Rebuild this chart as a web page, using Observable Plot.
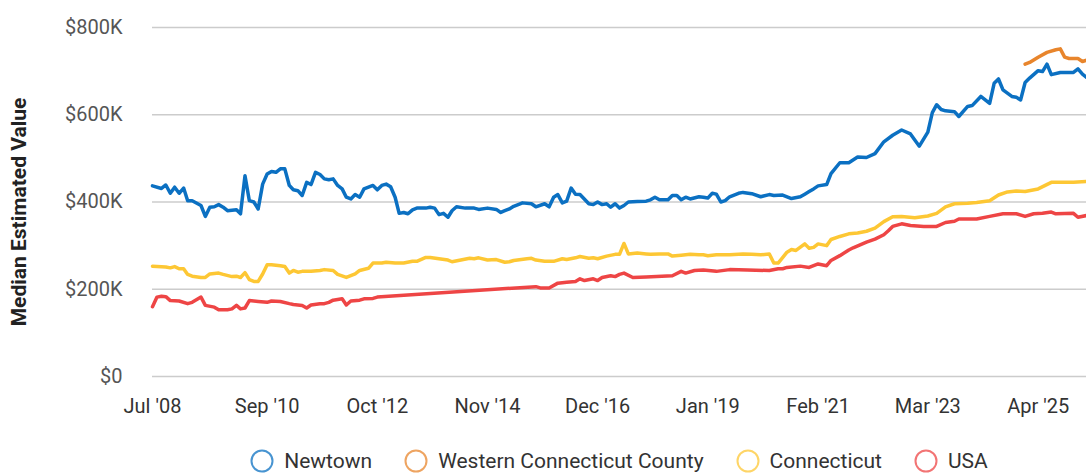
<!DOCTYPE html>
<html>
<head>
<meta charset="utf-8">
<script src="https://cdn.jsdelivr.net/npm/d3@7"></script>
<script src="https://cdn.jsdelivr.net/npm/@observablehq/plot@0.6"></script>
<style>
  body { margin: 0; background: #fff; font-family: Roboto, sans-serif; }
  #legend { display: flex; justify-content: center; align-items: center; margin-left: 152px; width: 934px; padding-top: 19px; gap: 32px; }
  .item { display: flex; align-items: center; font-size: 21px; color: #333; }
  .item svg { margin-right: 10px; }
</style>
</head>
<body>
<div id="chart"></div>
<div id="legend"></div>
<script>
const seriesNames = ["Newtown", "Western Connecticut County", "Connecticut", "USA"];
const seriesColors = ["#0b70c2", "#e8852c", "#fdc734", "#ee4545"];

const newtownDates = ["2008-07","2008-09","2008-10","2008-11","2008-12","2009-01","2009-02","2009-03","2009-04","2009-06","2009-07","2009-08","2009-09","2009-10","2009-11","2009-12","2010-02","2010-03","2010-04","2010-05","2010-06","2010-07","2010-08","2010-09","2010-10","2010-11","2010-12","2011-01","2011-02","2011-03","2011-04","2011-05","2011-06","2011-07","2011-08","2011-09","2011-10","2011-11","2011-12","2012-01","2012-02","2012-03","2012-04","2012-05","2012-06","2012-07","2012-09","2012-10","2012-11","2012-12","2013-01","2013-02","2013-03","2013-04","2013-05","2013-06","2013-07","2013-09","2013-10","2013-11","2013-12","2014-01","2014-02","2014-03","2014-04","2014-06","2014-08","2014-09","2014-11","2015-01","2015-02","2015-03","2015-04","2015-05","2015-06","2015-07","2015-09","2015-10","2015-12","2016-01","2016-02","2016-03","2016-04","2016-05","2016-06","2016-07","2016-08","2016-10","2016-11","2016-12","2017-01","2017-02","2017-03","2017-04","2017-05","2017-06","2017-07","2017-09","2017-11","2017-12","2018-01","2018-02","2018-04","2018-05","2018-06","2018-07","2018-08","2018-09","2018-11","2018-12","2019-01","2019-02","2019-03","2019-04","2019-05","2019-06","2019-08","2019-09","2019-11","2020-01","2020-03","2020-04","2020-06","2020-08","2020-10","2020-11","2020-12","2021-01","2021-02","2021-04","2021-05","2021-07","2021-09","2021-11","2022-01","2022-03","2022-05","2022-07","2022-09","2022-11","2023-01","2023-03","2023-04","2023-05","2023-06","2023-07","2023-09","2023-10","2023-12","2024-01","2024-03","2024-05","2024-06","2024-07","2024-08","2024-10","2024-11","2024-12","2025-01","2025-02","2025-04","2025-05","2025-06","2025-07","2025-09","2025-11","2025-12","2026-01","2026-02","2026-03"];
const newtownValues = [437,431,439,420,434,420,432,403,403,392,367,388,389,394,388,380,382,373,460,403,400,384,441,464,470,468,476,476,438,428,426,415,445,440,468,463,453,451,453,438,430,411,407,417,411,430,438,428,438,441,435,411,374,376,373,382,386,386,388,386,371,374,365,380,389,386,386,383,386,383,376,380,384,390,394,398,396,389,396,389,411,417,398,402,432,418,417,396,394,400,394,396,388,396,386,392,400,401,402,405,411,405,405,415,415,405,411,407,412,411,409,420,418,400,403,412,420,422,419,412,417,415,416,408,412,418,424,430,437,440,465,490,490,503,502,511,538,553,565,556,528,560,605,623,612,609,607,596,619,621,642,626,672,682,657,642,640,634,674,684,701,699,716,692,697,697,697,705,693,686];

const westernDates = ["2025-01","2025-02","2025-04","2025-06","2025-08","2025-09","2025-10","2025-11","2026-01","2026-02","2026-03"];
const westernValues = [716,720,732,743,749,751,732,729,729,722,725];

const connecticutDates = ["2008-07","2008-10","2008-11","2008-12","2009-01","2009-02","2009-03","2009-04","2009-06","2009-07","2009-08","2009-10","2009-11","2010-01","2010-02","2010-03","2010-04","2010-05","2010-06","2010-07","2010-08","2010-09","2010-10","2010-12","2011-01","2011-02","2011-03","2011-04","2011-05","2011-07","2011-09","2011-10","2011-12","2012-01","2012-03","2012-05","2012-06","2012-08","2012-09","2012-11","2012-12","2013-02","2013-04","2013-06","2013-07","2013-09","2013-10","2013-12","2014-02","2014-03","2014-05","2014-07","2014-08","2014-09","2014-11","2015-01","2015-03","2015-04","2015-05","2015-08","2015-09","2015-10","2015-12","2016-02","2016-04","2016-05","2016-07","2016-08","2016-10","2016-11","2016-12","2017-02","2017-04","2017-05","2017-06","2017-07","2017-09","2017-11","2017-12","2018-02","2018-04","2018-05","2018-07","2018-09","2018-11","2018-12","2019-01","2019-03","2019-06","2019-09","2019-11","2020-01","2020-03","2020-04","2020-05","2020-07","2020-08","2020-09","2020-11","2020-12","2021-01","2021-02","2021-04","2021-05","2021-07","2021-09","2021-11","2022-01","2022-03","2022-05","2022-07","2022-09","2022-12","2023-03","2023-05","2023-07","2023-09","2023-12","2024-02","2024-05","2024-07","2024-09","2024-11","2025-01","2025-04","2025-07","2025-10","2025-12","2026-03"];
const connecticutValues = [253,251,249,252,247,247,234,230,227,227,235,237,234,229,230,227,238,222,218,218,235,256,256,254,252,237,243,239,241,241,243,245,243,234,227,235,243,248,260,260,262,260,260,264,264,273,273,270,267,263,267,271,270,272,267,268,262,263,266,270,271,267,264,264,270,268,272,275,271,272,270,276,280,280,305,281,283,281,280,281,281,276,278,280,279,279,277,279,279,281,280,279,281,260,260,285,291,289,304,294,296,304,300,314,321,327,329,333,340,355,366,367,364,368,374,389,396,397,399,403,416,423,425,424,430,445,445,445,447];

const usaDates = ["2008-07","2008-08","2008-09","2008-10","2008-11","2009-01","2009-03","2009-04","2009-06","2009-07","2009-09","2009-10","2009-12","2010-01","2010-02","2010-03","2010-04","2010-05","2010-07","2010-09","2010-10","2010-12","2011-02","2011-03","2011-05","2011-06","2011-07","2011-09","2011-10","2011-11","2011-12","2012-02","2012-03","2012-04","2012-06","2012-07","2012-09","2012-10","2015-10","2015-11","2016-01","2016-03","2016-05","2016-07","2016-08","2016-09","2016-11","2016-12","2017-01","2017-03","2017-04","2017-05","2017-06","2017-08","2017-11","2018-05","2018-07","2018-08","2018-10","2018-12","2019-03","2019-06","2019-10","2020-03","2020-05","2020-06","2020-07","2020-10","2020-12","2021-02","2021-04","2021-05","2021-07","2021-09","2021-10","2022-01","2022-03","2022-05","2022-06","2022-07","2022-09","2022-11","2023-02","2023-05","2023-07","2023-09","2023-10","2024-02","2024-05","2024-08","2024-11","2025-01","2025-03","2025-05","2025-07","2025-08","2025-12","2026-01","2026-03"];
const usaValues = [160,182,184,183,174,173,167,170,182,163,159,153,153,155,163,155,157,174,172,170,173,172,167,165,163,157,164,167,167,170,175,178,164,173,175,178,179,182,206,203,203,214,216,218,224,220,224,220,227,231,229,234,237,227,228,231,241,237,243,244,241,245,244,243,247,247,250,253,250,258,254,266,277,290,295,308,315,325,334,344,350,346,344,344,353,356,361,361,367,373,373,367,373,374,377,373,374,365,369];

const yTicks = [0, 200, 400, 600, 800];
const xTickDates = ["2008-07","2010-09","2012-10","2014-11","2016-12","2019-01","2021-02","2023-03","2025-04"];
const domainDates = ["2008-07", "2026-03"];

const parse = d3.utcParse("%Y-%m");
const seriesData = [
  [seriesNames[3], usaDates, usaValues],
  [seriesNames[2], connecticutDates, connecticutValues],
  [seriesNames[0], newtownDates, newtownValues],
  [seriesNames[1], westernDates, westernValues]
];
const rows = seriesData.flatMap(([name, ds, vs]) => ds.map((d, i) => ({series: name, date: parse(d), value: vs[i]})));

const chart = Plot.plot({
  width: 1086,
  height: 430,
  marginLeft: 152,
  marginRight: 0,
  marginTop: 27,
  marginBottom: 54,
  style: {fontFamily: "Roboto, sans-serif", fontSize: "20px", background: "#fff"},
  x: {type: "utc", domain: domainDates.map(parse)},
  y: {domain: [0, 800]},
  color: {domain: seriesNames, range: seriesColors},
  marks: [
    Plot.ruleY(yTicks, {stroke: "#cccccc", strokeWidth: 1.5}),
    Plot.line(rows, {x: "date", y: "value", z: "series", stroke: "series", strokeWidth: 3.5, strokeLinejoin: "round", strokeLinecap: "round"}),
    Plot.axisX({ticks: xTickDates.map(parse), tickFormat: d3.utcFormat("%b '%y"), tickSize: 0, tickPadding: 22, color: "#333", label: null}),
    Plot.axisY({ticks: yTicks, tickFormat: d => d === 0 ? "$0" : `$${d}K`, tickSize: 0, tickPadding: 30, color: "#555", label: null}),
    Plot.text(["Median Estimated Value"], {text: d => d, frameAnchor: "left", textAnchor: "middle", lineAnchor: "middle", dx: -133, dy: 10, rotate: -90, fontWeight: "bold", fontSize: 21, fill: "#222"})
  ]
});
document.getElementById("chart").appendChild(chart);

const legend = document.getElementById("legend");
seriesNames.forEach((name, i) => {
  const item = document.createElement("div");
  item.className = "item";
  item.innerHTML = `<svg width="24" height="24"><circle cx="12" cy="12" r="10.5" fill="none" stroke="${seriesColors[i]}" stroke-opacity="0.75" stroke-width="2"/></svg><span>${name}</span>`;
  legend.appendChild(item);
});
</script>
</body>
</html>
